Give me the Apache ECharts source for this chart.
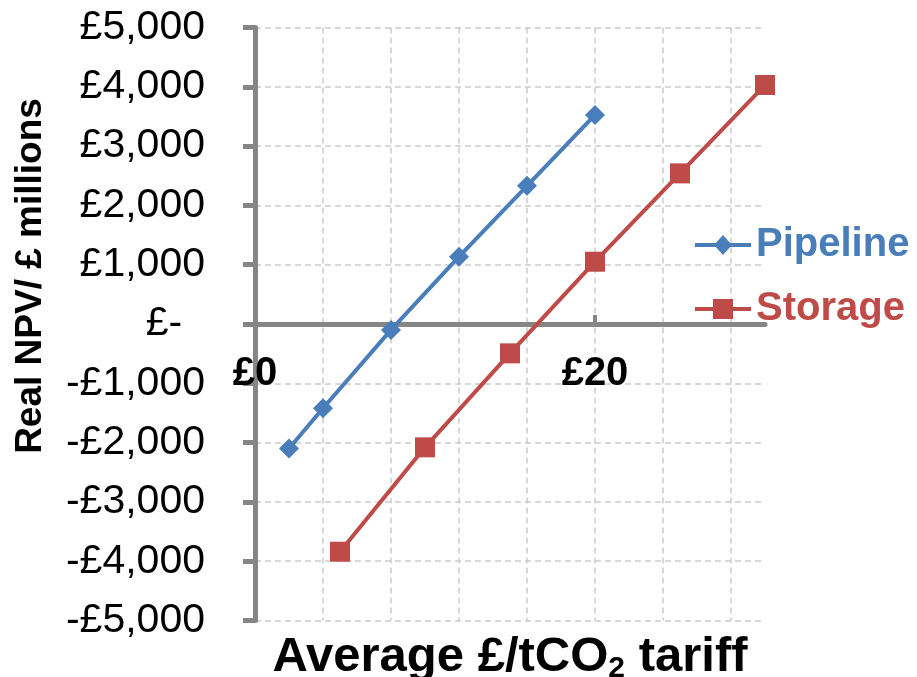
<!DOCTYPE html>
<html>
<head>
<meta charset="utf-8">
<script src="https://cdn.jsdelivr.net/npm/echarts@6/dist/echarts.min.js"></script>
<style>
  html, body { margin: 0; padding: 0; background: #fff; }
  #npv-chart { width: 917px; height: 677px; }
</style>
</head>
<body>
<div id="npv-chart"></div>
<script>
// tariff (£/tCO2) and real NPV (£ millions)
const pipelineX = [2, 4, 8, 12, 16, 20]
const pipelineY = [-2100, -1420, -100, 1135, 2330, 3525]
const storageX = [5, 10, 15, 20, 25, 30]
const storageY = [-3840, -2080, -495, 1050, 2540, 4030]
const xLabelValues = [0, 20]
const xMajorTicks = [20]

const blue = '#4a7ebb'
const red = '#be4b48'
const axisGray = '#868686'
const gridGray = '#cccccc'
const font = 'Arial, "Liberation Sans", sans-serif'

// legend icons: line with the marker on it (box 56 x 20)
const diamondIcon = 'path://M0 8L56 8L56 12L0 12Z M28 0L37 10L28 20L19 10Z'
const squareIcon = 'path://M0 8L56 8L56 12L0 12Z M18 0L38 0L38 20L18 20Z'

function pairs(xs, ys) {
  let out = []
  for (let i = 0; i < xs.length; i++) {
    out.push([xs[i], ys[i]])
  }
  return out
}

function money(v) {
  if (v === 0) return '£-  '
  const s = '£' + Math.abs(v).toLocaleString('en-GB')
  return v < 0 ? '-' + s : s
}

// x axis sits on the y = 0 line: grid is 593px tall and zero is its middle
const zeroOffset = -296.5

let option = {
  animation: false,
  textStyle: { fontFamily: font },
  grid: {
    left: 255,
    right: 152,
    top: 27.5,
    bottom: 56.5,
    containLabel: false,
    outerBoundsMode: 'none'
  },
  legend: {
    orient: 'vertical',
    left: 690,
    top: 218,
    itemWidth: 56,
    itemHeight: 20,
    itemGap: 20,
    textStyle: {
      fontFamily: font,
      fontSize: 40,
      fontWeight: 'bold',
      lineHeight: 44
    },
    data: [
      { name: 'Pipeline', icon: diamondIcon, textStyle: { color: blue } },
      { name: 'Storage', icon: squareIcon, textStyle: { color: red } }
    ]
  },
  xAxis: [
    {
      type: 'value',
      min: 0,
      max: 30,
      interval: 4,
      offset: zeroOffset,
      name: 'Average £/tCO{sub|2} tariff',
      nameLocation: 'middle',
      nameGap: 306,
      nameTextStyle: {
        color: '#000',
        fontFamily: font,
        fontSize: 49,
        fontWeight: 'bold',
        rich: {
          sub: {
            fontFamily: font,
            fontSize: 30,
            fontWeight: 'bold',
            color: '#000',
            padding: [24, 0, 0, 0]
          }
        }
      },
      axisLine: {
        onZero: false,
        lineStyle: { color: axisGray, width: 5 }
      },
      axisTick: { show: false },
      axisLabel: {
        customValues: xLabelValues,
        margin: 30,
        color: '#000',
        fontFamily: font,
        fontSize: 40,
        fontWeight: 'bold',
        formatter: v => '£' + v
      },
      splitLine: {
        show: true,
        showMinLine: false,
        showMaxLine: false,
        lineStyle: { color: gridGray, width: 1.5, type: [6, 4] }
      }
    },
    {
      // only the major tick at £20
      type: 'value',
      min: 0,
      max: 30,
      offset: zeroOffset,
      axisLine: { show: false, onZero: false },
      axisTick: {
        show: true,
        customValues: xMajorTicks,
        length: 9,
        lineStyle: { color: axisGray, width: 4 }
      },
      axisLabel: { show: false },
      splitLine: { show: false }
    }
  ],
  yAxis: {
    type: 'value',
    min: -5000,
    max: 5000,
    interval: 1000,
    name: 'Real NPV/ £ millions',
    nameLocation: 'middle',
    nameGap: 206,
    nameTextStyle: {
      color: '#000',
      fontFamily: font,
      fontSize: 37,
      fontWeight: 'bold',
      padding: [0, 0, 0, 96]
    },
    axisLine: {
      show: true,
      onZero: false,
      lineStyle: { color: axisGray, width: 5 }
    },
    axisTick: {
      show: true,
      length: 12,
      lineStyle: { color: axisGray, width: 5 }
    },
    axisLabel: {
      margin: 50,
      color: '#000',
      fontFamily: font,
      fontSize: 41,
      formatter: money
    },
    splitLine: {
      show: true,
      lineStyle: { color: gridGray, width: 1.5, type: [6, 4] }
    }
  },
  series: [
    {
      name: 'Pipeline',
      type: 'line',
      symbol: 'diamond',
      symbolSize: 20,
      itemStyle: { color: blue },
      lineStyle: { color: blue, width: 4 },
      data: pairs(pipelineX, pipelineY),
      z: 3
    },
    {
      name: 'Storage',
      type: 'line',
      symbol: 'rect',
      symbolSize: 20,
      itemStyle: { color: red },
      lineStyle: { color: red, width: 4 },
      data: pairs(storageX, storageY),
      z: 3
    }
  ]
}

let myChart = echarts.init(document.getElementById('npv-chart'))
myChart.setOption(option)
</script>
</body>
</html>
